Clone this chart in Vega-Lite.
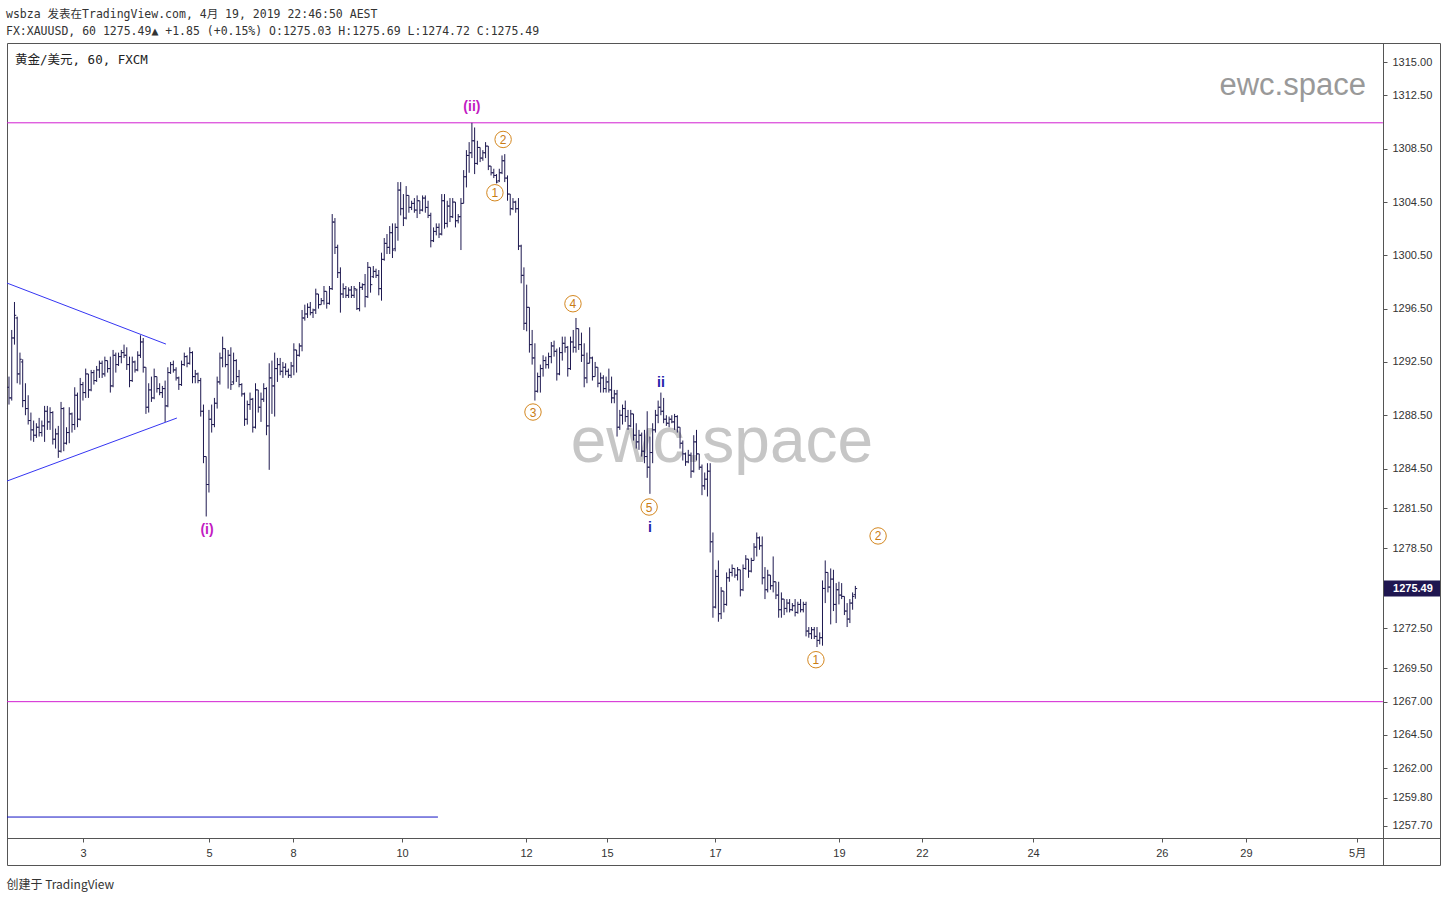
{
"$schema": "https://vega.github.io/schema/vega-lite/v6.json",
"width": 1433,
"height": 822,
"autosize": {"type": "none"},
"padding": {"left": 7, "top": 43, "right": 6, "bottom": 37},
"background": "#ffffff",
"title": {
"text": "wsbza 发表在TradingView.com, 4月 19, 2019 22:46:50 AEST",
"subtitle": "FX:XAUUSD, 60 1275.49▲ +1.85 (+0.15%) O:1275.03 H:1275.69 L:1274.72 C:1275.49",
"anchor": "start", "frame": "group", "orient": "top", "baseline": "top",
"font": "DejaVu Sans Mono, Noto Sans CJK SC", "fontSize": 11.5, "fontWeight": "normal", "color": "#333333",
"subtitleFont": "DejaVu Sans Mono, Noto Sans CJK SC", "subtitleFontSize": 11.5, "subtitleColor": "#333333",
"subtitlePadding": 5, "offset": 6, "dx": -1
},
"datasets": {
"bars": [
{"i":0,"o":1290.6,"h":1291.4,"l":1289.3,"c":1289.8},
{"i":1,"o":1289.8,"h":1294.9,"l":1289.6,"c":1294.3},
{"i":2,"o":1294.3,"h":1297.0,"l":1293.8,"c":1296.0},
{"i":3,"o":1295.8,"h":1295.9,"l":1290.9,"c":1291.6},
{"i":4,"o":1291.6,"h":1293.2,"l":1290.8,"c":1292.7},
{"i":5,"o":1292.5,"h":1292.7,"l":1289.1,"c":1289.6},
{"i":6,"o":1289.6,"h":1290.9,"l":1288.5,"c":1289.0},
{"i":7,"o":1289.0,"h":1290.0,"l":1287.8,"c":1288.1},
{"i":8,"o":1288.1,"h":1288.7,"l":1286.6,"c":1287.4},
{"i":9,"o":1287.4,"h":1288.1,"l":1286.5,"c":1287.0},
{"i":10,"o":1287.0,"h":1287.9,"l":1286.8,"c":1287.6},
{"i":11,"o":1287.6,"h":1288.3,"l":1286.9,"c":1287.2},
{"i":12,"o":1287.2,"h":1288.1,"l":1286.9,"c":1287.7},
{"i":13,"o":1287.7,"h":1289.2,"l":1286.5,"c":1288.8},
{"i":14,"o":1288.8,"h":1289.2,"l":1287.4,"c":1288.0},
{"i":15,"o":1288.0,"h":1289.1,"l":1287.4,"c":1288.7},
{"i":16,"o":1288.7,"h":1288.8,"l":1286.3,"c":1286.7},
{"i":17,"o":1286.7,"h":1287.5,"l":1286.0,"c":1287.1},
{"i":18,"o":1287.1,"h":1287.7,"l":1285.3,"c":1285.8},
{"i":19,"o":1285.8,"h":1289.5,"l":1285.7,"c":1289.0},
{"i":20,"o":1289.0,"h":1289.1,"l":1285.8,"c":1286.4},
{"i":21,"o":1286.4,"h":1287.6,"l":1286.3,"c":1287.2},
{"i":22,"o":1287.2,"h":1289.1,"l":1286.4,"c":1288.6},
{"i":23,"o":1288.6,"h":1288.7,"l":1287.2,"c":1287.8},
{"i":24,"o":1287.8,"h":1290.6,"l":1287.4,"c":1290.0},
{"i":25,"o":1290.0,"h":1290.2,"l":1287.6,"c":1288.2},
{"i":26,"o":1288.2,"h":1291.3,"l":1288.1,"c":1290.8},
{"i":27,"o":1290.8,"h":1291.0,"l":1289.6,"c":1290.2},
{"i":28,"o":1290.2,"h":1292.0,"l":1289.8,"c":1291.6},
{"i":29,"o":1291.6,"h":1291.6,"l":1289.8,"c":1290.4},
{"i":30,"o":1290.4,"h":1291.9,"l":1290.3,"c":1291.7},
{"i":31,"o":1291.7,"h":1291.9,"l":1290.8,"c":1291.1},
{"i":32,"o":1291.1,"h":1292.2,"l":1291.0,"c":1291.9},
{"i":33,"o":1291.9,"h":1292.6,"l":1291.3,"c":1292.4},
{"i":34,"o":1292.4,"h":1292.6,"l":1291.3,"c":1291.6},
{"i":35,"o":1291.6,"h":1292.9,"l":1291.4,"c":1292.6},
{"i":36,"o":1292.6,"h":1292.6,"l":1291.7,"c":1292.0},
{"i":37,"o":1292.0,"h":1292.9,"l":1290.2,"c":1290.7},
{"i":38,"o":1290.7,"h":1293.4,"l":1290.6,"c":1293.0},
{"i":39,"o":1293.0,"h":1293.2,"l":1291.7,"c":1292.3},
{"i":40,"o":1292.3,"h":1293.2,"l":1292.2,"c":1292.9},
{"i":41,"o":1292.9,"h":1293.4,"l":1292.4,"c":1293.2},
{"i":42,"o":1293.2,"h":1293.8,"l":1292.8,"c":1293.0},
{"i":43,"o":1293.0,"h":1293.6,"l":1291.9,"c":1292.3},
{"i":44,"o":1292.3,"h":1292.9,"l":1290.6,"c":1291.1},
{"i":45,"o":1291.1,"h":1292.9,"l":1291.0,"c":1292.5},
{"i":46,"o":1292.5,"h":1292.6,"l":1291.7,"c":1291.9},
{"i":47,"o":1291.9,"h":1293.3,"l":1291.8,"c":1293.0},
{"i":48,"o":1293.0,"h":1294.5,"l":1292.8,"c":1294.0},
{"i":49,"o":1294.0,"h":1294.3,"l":1291.7,"c":1292.1},
{"i":50,"o":1292.1,"h":1292.1,"l":1288.6,"c":1289.1},
{"i":51,"o":1289.1,"h":1290.9,"l":1288.7,"c":1290.4},
{"i":52,"o":1290.4,"h":1291.4,"l":1289.5,"c":1289.8},
{"i":53,"o":1289.8,"h":1292.0,"l":1289.7,"c":1291.4},
{"i":54,"o":1291.4,"h":1291.4,"l":1290.2,"c":1290.5},
{"i":55,"o":1290.5,"h":1290.9,"l":1290.0,"c":1290.2},
{"i":56,"o":1290.2,"h":1290.7,"l":1289.8,"c":1290.5},
{"i":57,"o":1290.5,"h":1291.1,"l":1288.0,"c":1289.2},
{"i":58,"o":1289.2,"h":1292.1,"l":1289.1,"c":1291.7},
{"i":59,"o":1291.7,"h":1292.5,"l":1291.6,"c":1292.3},
{"i":60,"o":1292.3,"h":1292.6,"l":1291.7,"c":1291.9},
{"i":61,"o":1291.9,"h":1292.1,"l":1291.1,"c":1291.3},
{"i":62,"o":1291.3,"h":1291.4,"l":1290.4,"c":1290.8},
{"i":63,"o":1290.8,"h":1292.6,"l":1290.7,"c":1292.3},
{"i":64,"o":1292.3,"h":1293.2,"l":1292.2,"c":1292.9},
{"i":65,"o":1292.9,"h":1293.0,"l":1292.1,"c":1292.4},
{"i":66,"o":1292.4,"h":1293.6,"l":1292.3,"c":1293.2},
{"i":67,"o":1293.2,"h":1293.3,"l":1290.9,"c":1291.4},
{"i":68,"o":1291.4,"h":1291.9,"l":1290.9,"c":1291.6},
{"i":69,"o":1291.6,"h":1291.7,"l":1290.9,"c":1291.1},
{"i":70,"o":1291.1,"h":1291.3,"l":1288.4,"c":1288.8},
{"i":71,"o":1288.8,"h":1289.3,"l":1284.9,"c":1285.4},
{"i":72,"o":1285.4,"h":1285.4,"l":1280.9,"c":1283.3},
{"i":73,"o":1283.3,"h":1288.9,"l":1282.7,"c":1288.2},
{"i":74,"o":1288.2,"h":1289.3,"l":1287.2,"c":1287.8},
{"i":75,"o":1287.8,"h":1289.8,"l":1287.6,"c":1289.4},
{"i":76,"o":1289.4,"h":1291.4,"l":1289.0,"c":1291.0},
{"i":77,"o":1291.0,"h":1293.2,"l":1290.8,"c":1292.8},
{"i":78,"o":1292.8,"h":1294.4,"l":1292.1,"c":1293.5},
{"i":79,"o":1293.5,"h":1293.5,"l":1292.1,"c":1292.3},
{"i":80,"o":1292.3,"h":1293.4,"l":1290.5,"c":1293.0},
{"i":81,"o":1293.0,"h":1293.6,"l":1290.4,"c":1290.8},
{"i":82,"o":1291.0,"h":1293.2,"l":1290.8,"c":1292.6},
{"i":83,"o":1292.6,"h":1292.7,"l":1291.0,"c":1291.4},
{"i":84,"o":1291.4,"h":1291.9,"l":1290.6,"c":1290.8},
{"i":85,"o":1290.8,"h":1290.9,"l":1289.9,"c":1290.1},
{"i":86,"o":1290.1,"h":1290.2,"l":1287.7,"c":1288.2},
{"i":87,"o":1288.2,"h":1289.6,"l":1287.8,"c":1289.3},
{"i":88,"o":1289.3,"h":1290.2,"l":1288.9,"c":1289.7},
{"i":89,"o":1289.7,"h":1289.8,"l":1287.2,"c":1287.6},
{"i":90,"o":1287.6,"h":1290.9,"l":1287.5,"c":1290.4},
{"i":91,"o":1290.4,"h":1290.4,"l":1288.7,"c":1289.1},
{"i":92,"o":1289.1,"h":1290.2,"l":1288.0,"c":1289.7},
{"i":93,"o":1289.7,"h":1290.9,"l":1289.5,"c":1290.5},
{"i":94,"o":1290.5,"h":1290.6,"l":1287.0,"c":1287.7},
{"i":95,"o":1287.7,"h":1292.4,"l":1284.4,"c":1291.3},
{"i":96,"o":1291.3,"h":1292.6,"l":1288.6,"c":1290.7},
{"i":97,"o":1290.7,"h":1293.2,"l":1288.4,"c":1292.0},
{"i":98,"o":1292.0,"h":1292.8,"l":1291.0,"c":1292.3},
{"i":99,"o":1292.3,"h":1292.8,"l":1291.5,"c":1291.8},
{"i":100,"o":1291.8,"h":1292.5,"l":1291.3,"c":1292.1},
{"i":101,"o":1292.1,"h":1292.4,"l":1291.5,"c":1291.8},
{"i":102,"o":1291.8,"h":1292.0,"l":1291.3,"c":1291.5},
{"i":103,"o":1291.5,"h":1292.5,"l":1291.3,"c":1292.2},
{"i":104,"o":1292.2,"h":1293.9,"l":1291.5,"c":1293.4},
{"i":105,"o":1293.4,"h":1293.4,"l":1291.7,"c":1293.0},
{"i":106,"o":1293.0,"h":1293.9,"l":1292.9,"c":1293.7},
{"i":107,"o":1293.7,"h":1296.4,"l":1293.3,"c":1295.8},
{"i":108,"o":1295.8,"h":1296.8,"l":1295.6,"c":1296.1},
{"i":109,"o":1296.1,"h":1296.9,"l":1295.8,"c":1296.6},
{"i":110,"o":1296.6,"h":1297.0,"l":1296.0,"c":1296.2},
{"i":111,"o":1296.2,"h":1296.5,"l":1295.8,"c":1296.4},
{"i":112,"o":1296.4,"h":1298.0,"l":1296.1,"c":1297.6},
{"i":113,"o":1297.6,"h":1297.6,"l":1296.5,"c":1296.8},
{"i":114,"o":1296.8,"h":1297.3,"l":1296.8,"c":1297.1},
{"i":115,"o":1297.1,"h":1298.2,"l":1296.8,"c":1297.8},
{"i":116,"o":1297.8,"h":1297.8,"l":1296.5,"c":1296.9},
{"i":117,"o":1296.9,"h":1298.2,"l":1296.8,"c":1298.0},
{"i":118,"o":1298.0,"h":1303.6,"l":1297.9,"c":1303.0},
{"i":119,"o":1303.0,"h":1303.3,"l":1300.6,"c":1301.1},
{"i":120,"o":1301.1,"h":1301.3,"l":1298.8,"c":1299.2},
{"i":121,"o":1299.2,"h":1299.6,"l":1296.2,"c":1297.6},
{"i":122,"o":1297.6,"h":1298.4,"l":1297.3,"c":1298.0},
{"i":123,"o":1298.0,"h":1298.2,"l":1297.3,"c":1297.5},
{"i":124,"o":1297.5,"h":1298.1,"l":1297.3,"c":1297.9},
{"i":125,"o":1297.9,"h":1298.2,"l":1297.3,"c":1297.5},
{"i":126,"o":1297.5,"h":1298.2,"l":1297.3,"c":1298.0},
{"i":127,"o":1297.9,"h":1298.0,"l":1296.4,"c":1296.5},
{"i":128,"o":1296.5,"h":1298.5,"l":1296.3,"c":1298.1},
{"i":129,"o":1298.1,"h":1298.4,"l":1297.9,"c":1298.3},
{"i":130,"o":1298.3,"h":1299.1,"l":1296.6,"c":1297.4},
{"i":131,"o":1297.4,"h":1300.0,"l":1297.3,"c":1299.6},
{"i":132,"o":1299.6,"h":1299.6,"l":1297.7,"c":1298.3},
{"i":133,"o":1298.9,"h":1299.7,"l":1298.8,"c":1299.3},
{"i":134,"o":1299.3,"h":1299.5,"l":1298.8,"c":1299.0},
{"i":135,"o":1299.0,"h":1299.4,"l":1297.5,"c":1298.0},
{"i":136,"o":1298.0,"h":1300.7,"l":1297.1,"c":1300.2},
{"i":137,"o":1300.2,"h":1301.8,"l":1300.1,"c":1301.4},
{"i":138,"o":1301.4,"h":1302.1,"l":1300.6,"c":1301.1},
{"i":139,"o":1301.1,"h":1302.7,"l":1300.6,"c":1302.2},
{"i":140,"o":1302.2,"h":1302.9,"l":1300.3,"c":1300.9},
{"i":141,"o":1301.0,"h":1302.9,"l":1300.8,"c":1302.6},
{"i":142,"o":1302.6,"h":1306.0,"l":1301.6,"c":1305.4},
{"i":143,"o":1305.4,"h":1306.0,"l":1303.5,"c":1304.0},
{"i":144,"o":1304.0,"h":1305.1,"l":1302.7,"c":1303.3},
{"i":145,"o":1303.3,"h":1305.7,"l":1303.2,"c":1305.0},
{"i":146,"o":1305.0,"h":1305.0,"l":1303.7,"c":1304.1},
{"i":147,"o":1304.1,"h":1304.6,"l":1303.9,"c":1304.4},
{"i":148,"o":1304.4,"h":1304.8,"l":1303.7,"c":1303.9},
{"i":149,"o":1303.9,"h":1305.0,"l":1303.3,"c":1304.6},
{"i":150,"o":1304.6,"h":1304.6,"l":1303.6,"c":1303.9},
{"i":151,"o":1303.9,"h":1305.0,"l":1303.8,"c":1304.8},
{"i":152,"o":1304.8,"h":1305.0,"l":1303.7,"c":1304.1},
{"i":153,"o":1304.1,"h":1304.6,"l":1303.3,"c":1303.5},
{"i":154,"o":1303.5,"h":1303.7,"l":1301.1,"c":1301.6},
{"i":155,"o":1301.6,"h":1302.6,"l":1301.5,"c":1302.3},
{"i":156,"o":1302.3,"h":1302.9,"l":1302.0,"c":1302.6},
{"i":157,"o":1302.6,"h":1302.9,"l":1301.8,"c":1302.1},
{"i":158,"o":1302.1,"h":1305.1,"l":1302.0,"c":1304.6},
{"i":159,"o":1304.6,"h":1305.1,"l":1302.5,"c":1302.9},
{"i":160,"o":1302.9,"h":1304.6,"l":1302.6,"c":1304.2},
{"i":161,"o":1304.2,"h":1304.8,"l":1303.0,"c":1303.4},
{"i":162,"o":1303.4,"h":1304.8,"l":1303.3,"c":1304.5},
{"i":163,"o":1304.5,"h":1304.5,"l":1302.6,"c":1303.1},
{"i":164,"o":1303.1,"h":1303.6,"l":1302.9,"c":1303.4},
{"i":165,"o":1303.4,"h":1304.8,"l":1300.9,"c":1304.4},
{"i":166,"o":1304.4,"h":1306.9,"l":1304.4,"c":1306.4},
{"i":167,"o":1306.4,"h":1308.4,"l":1305.6,"c":1308.0},
{"i":168,"o":1308.0,"h":1309.0,"l":1306.7,"c":1308.2},
{"i":169,"o":1308.2,"h":1310.45,"l":1307.8,"c":1309.1},
{"i":170,"o":1309.1,"h":1310.1,"l":1306.6,"c":1307.4},
{"i":171,"o":1307.4,"h":1309.1,"l":1307.3,"c":1308.6},
{"i":172,"o":1308.6,"h":1308.6,"l":1307.5,"c":1307.8},
{"i":173,"o":1307.8,"h":1308.4,"l":1307.6,"c":1308.2},
{"i":174,"o":1308.2,"h":1309.0,"l":1307.8,"c":1308.7},
{"i":175,"o":1308.7,"h":1308.7,"l":1306.9,"c":1307.2},
{"i":176,"o":1307.2,"h":1307.2,"l":1306.5,"c":1306.7},
{"i":177,"o":1306.7,"h":1307.0,"l":1306.3,"c":1306.5},
{"i":178,"o":1306.5,"h":1306.6,"l":1305.9,"c":1306.0},
{"i":179,"o":1306.1,"h":1307.0,"l":1306.0,"c":1306.7},
{"i":180,"o":1306.7,"h":1308.0,"l":1306.6,"c":1307.6},
{"i":181,"o":1307.6,"h":1308.1,"l":1306.0,"c":1306.3},
{"i":182,"o":1306.3,"h":1306.5,"l":1304.6,"c":1305.1},
{"i":183,"o":1305.1,"h":1305.1,"l":1303.5,"c":1304.0},
{"i":184,"o":1304.0,"h":1304.8,"l":1303.9,"c":1304.5},
{"i":185,"o":1304.5,"h":1304.6,"l":1303.7,"c":1304.0},
{"i":186,"o":1304.0,"h":1304.8,"l":1300.9,"c":1301.2},
{"i":187,"o":1301.2,"h":1301.3,"l":1298.4,"c":1299.0},
{"i":188,"o":1299.0,"h":1299.6,"l":1294.9,"c":1295.4},
{"i":189,"o":1295.4,"h":1298.3,"l":1294.8,"c":1296.6},
{"i":190,"o":1296.6,"h":1296.6,"l":1293.2,"c":1293.8},
{"i":191,"o":1293.8,"h":1294.9,"l":1292.3,"c":1292.8},
{"i":192,"o":1292.8,"h":1293.9,"l":1289.6,"c":1290.3},
{"i":193,"o":1290.3,"h":1291.7,"l":1290.2,"c":1291.4},
{"i":194,"o":1291.4,"h":1292.3,"l":1290.2,"c":1292.0},
{"i":195,"o":1292.0,"h":1293.0,"l":1291.4,"c":1292.6},
{"i":196,"o":1292.6,"h":1292.9,"l":1292.0,"c":1292.3},
{"i":197,"o":1292.3,"h":1293.2,"l":1292.0,"c":1292.9},
{"i":198,"o":1292.9,"h":1294.0,"l":1292.4,"c":1293.7},
{"i":199,"o":1293.7,"h":1294.1,"l":1292.9,"c":1293.3},
{"i":200,"o":1293.3,"h":1293.5,"l":1291.1,"c":1291.6},
{"i":201,"o":1291.6,"h":1293.6,"l":1291.5,"c":1293.2},
{"i":202,"o":1293.2,"h":1294.4,"l":1292.6,"c":1293.9},
{"i":203,"o":1293.9,"h":1294.4,"l":1293.2,"c":1293.6},
{"i":204,"o":1293.6,"h":1293.7,"l":1291.4,"c":1292.0},
{"i":205,"o":1292.0,"h":1294.4,"l":1291.9,"c":1294.0},
{"i":206,"o":1294.0,"h":1294.9,"l":1293.2,"c":1293.6},
{"i":207,"o":1293.6,"h":1295.8,"l":1293.2,"c":1295.0},
{"i":208,"o":1295.0,"h":1295.0,"l":1293.4,"c":1293.8},
{"i":209,"o":1293.8,"h":1294.7,"l":1292.5,"c":1293.0},
{"i":210,"o":1293.0,"h":1293.9,"l":1290.6,"c":1291.3},
{"i":211,"o":1291.3,"h":1293.2,"l":1290.9,"c":1292.4},
{"i":212,"o":1292.4,"h":1295.1,"l":1292.4,"c":1292.8},
{"i":213,"o":1292.8,"h":1292.9,"l":1291.1,"c":1291.4},
{"i":214,"o":1291.4,"h":1292.5,"l":1291.4,"c":1292.1},
{"i":215,"o":1292.1,"h":1292.1,"l":1290.6,"c":1290.9},
{"i":216,"o":1290.9,"h":1291.7,"l":1290.2,"c":1291.3},
{"i":217,"o":1291.3,"h":1291.5,"l":1290.2,"c":1290.5},
{"i":218,"o":1290.5,"h":1291.4,"l":1290.2,"c":1291.0},
{"i":219,"o":1291.0,"h":1292.0,"l":1290.2,"c":1290.4},
{"i":220,"o":1290.4,"h":1291.4,"l":1289.4,"c":1289.8},
{"i":221,"o":1289.8,"h":1290.4,"l":1289.4,"c":1290.1},
{"i":222,"o":1290.1,"h":1290.4,"l":1286.9,"c":1287.6},
{"i":223,"o":1287.6,"h":1288.9,"l":1287.4,"c":1288.5},
{"i":224,"o":1288.5,"h":1289.3,"l":1287.8,"c":1289.0},
{"i":225,"o":1289.0,"h":1289.6,"l":1288.0,"c":1288.4},
{"i":226,"o":1288.4,"h":1288.9,"l":1287.4,"c":1287.7},
{"i":227,"o":1287.7,"h":1288.9,"l":1287.6,"c":1288.6},
{"i":228,"o":1288.6,"h":1288.6,"l":1286.6,"c":1287.0},
{"i":229,"o":1287.0,"h":1287.9,"l":1286.0,"c":1286.5},
{"i":230,"o":1286.5,"h":1287.4,"l":1285.9,"c":1287.0},
{"i":231,"o":1287.0,"h":1287.2,"l":1285.4,"c":1285.8},
{"i":232,"o":1285.8,"h":1287.4,"l":1284.9,"c":1285.4},
{"i":233,"o":1285.4,"h":1288.8,"l":1283.8,"c":1284.6},
{"i":234,"o":1284.6,"h":1286.9,"l":1282.6,"c":1285.7},
{"i":235,"o":1285.7,"h":1287.9,"l":1284.9,"c":1287.4},
{"i":236,"o":1287.4,"h":1288.9,"l":1287.2,"c":1288.5},
{"i":237,"o":1288.5,"h":1289.6,"l":1287.9,"c":1289.1},
{"i":238,"o":1289.1,"h":1290.2,"l":1288.5,"c":1288.8},
{"i":239,"o":1288.8,"h":1289.8,"l":1287.9,"c":1288.2},
{"i":240,"o":1288.2,"h":1288.5,"l":1287.7,"c":1287.9},
{"i":241,"o":1287.9,"h":1288.4,"l":1287.6,"c":1288.2},
{"i":242,"o":1288.2,"h":1288.5,"l":1287.9,"c":1288.0},
{"i":243,"o":1288.0,"h":1288.6,"l":1287.4,"c":1288.4},
{"i":244,"o":1288.4,"h":1288.5,"l":1287.2,"c":1287.6},
{"i":245,"o":1287.6,"h":1287.6,"l":1286.0,"c":1286.4},
{"i":246,"o":1286.4,"h":1286.6,"l":1285.1,"c":1285.6},
{"i":247,"o":1285.6,"h":1285.7,"l":1284.7,"c":1285.0},
{"i":248,"o":1285.0,"h":1285.9,"l":1284.9,"c":1285.5},
{"i":249,"o":1285.5,"h":1285.7,"l":1283.8,"c":1284.3},
{"i":250,"o":1284.3,"h":1287.0,"l":1284.2,"c":1286.5},
{"i":251,"o":1286.5,"h":1287.4,"l":1285.1,"c":1285.6},
{"i":252,"o":1285.6,"h":1285.6,"l":1284.4,"c":1284.6},
{"i":253,"o":1284.6,"h":1284.8,"l":1282.5,"c":1283.2},
{"i":254,"o":1283.2,"h":1284.2,"l":1282.9,"c":1283.7},
{"i":255,"o":1283.7,"h":1284.9,"l":1282.4,"c":1284.3},
{"i":256,"o":1284.3,"h":1284.9,"l":1278.2,"c":1279.0},
{"i":257,"o":1279.0,"h":1279.7,"l":1273.3,"c":1274.1},
{"i":258,"o":1274.1,"h":1276.9,"l":1274.0,"c":1276.4},
{"i":259,"o":1276.4,"h":1277.6,"l":1273.0,"c":1273.6},
{"i":260,"o":1273.6,"h":1275.6,"l":1273.2,"c":1275.3},
{"i":261,"o":1275.3,"h":1275.3,"l":1273.7,"c":1274.3},
{"i":262,"o":1274.3,"h":1276.7,"l":1274.2,"c":1276.3},
{"i":263,"o":1276.3,"h":1277.0,"l":1276.0,"c":1276.7},
{"i":264,"o":1276.7,"h":1277.3,"l":1276.4,"c":1277.0},
{"i":265,"o":1277.0,"h":1277.0,"l":1276.3,"c":1276.5},
{"i":266,"o":1276.5,"h":1277.1,"l":1276.1,"c":1276.9},
{"i":267,"o":1276.9,"h":1276.9,"l":1274.9,"c":1275.4},
{"i":268,"o":1275.4,"h":1277.3,"l":1275.3,"c":1277.0},
{"i":269,"o":1277.0,"h":1278.0,"l":1276.9,"c":1277.7},
{"i":270,"o":1277.7,"h":1277.7,"l":1276.3,"c":1276.8},
{"i":271,"o":1276.8,"h":1277.8,"l":1276.7,"c":1277.6},
{"i":272,"o":1277.6,"h":1278.9,"l":1277.6,"c":1278.6},
{"i":273,"o":1278.6,"h":1279.7,"l":1277.9,"c":1279.3},
{"i":274,"o":1279.3,"h":1279.4,"l":1278.4,"c":1278.7},
{"i":275,"o":1278.7,"h":1279.4,"l":1275.8,"c":1276.3},
{"i":276,"o":1276.3,"h":1277.1,"l":1274.7,"c":1275.4},
{"i":277,"o":1275.4,"h":1276.9,"l":1275.2,"c":1276.5},
{"i":278,"o":1276.5,"h":1276.5,"l":1275.4,"c":1275.7},
{"i":279,"o":1275.7,"h":1277.9,"l":1275.2,"c":1276.0},
{"i":280,"o":1276.0,"h":1276.0,"l":1274.7,"c":1275.0},
{"i":281,"o":1275.0,"h":1276.0,"l":1273.3,"c":1273.9},
{"i":282,"o":1273.9,"h":1275.2,"l":1273.3,"c":1274.7},
{"i":283,"o":1274.7,"h":1274.7,"l":1273.5,"c":1274.0},
{"i":284,"o":1274.0,"h":1274.7,"l":1273.7,"c":1274.4},
{"i":285,"o":1274.4,"h":1274.7,"l":1273.7,"c":1273.9},
{"i":286,"o":1273.9,"h":1274.4,"l":1273.8,"c":1274.2},
{"i":287,"o":1274.2,"h":1274.7,"l":1273.4,"c":1273.7},
{"i":288,"o":1273.7,"h":1274.5,"l":1273.6,"c":1274.3},
{"i":289,"o":1274.3,"h":1274.7,"l":1273.7,"c":1273.9},
{"i":290,"o":1273.9,"h":1274.5,"l":1273.7,"c":1274.3},
{"i":291,"o":1274.3,"h":1274.5,"l":1271.9,"c":1272.3},
{"i":292,"o":1272.3,"h":1272.6,"l":1271.8,"c":1272.1},
{"i":293,"o":1272.1,"h":1272.6,"l":1271.7,"c":1272.4},
{"i":294,"o":1272.4,"h":1272.6,"l":1271.7,"c":1271.9},
{"i":295,"o":1271.9,"h":1272.6,"l":1271.1,"c":1271.6},
{"i":296,"o":1271.6,"h":1272.2,"l":1271.3,"c":1271.8},
{"i":297,"o":1271.8,"h":1276.1,"l":1271.2,"c":1275.5},
{"i":298,"o":1275.5,"h":1277.6,"l":1274.4,"c":1276.7},
{"i":299,"o":1276.7,"h":1276.7,"l":1275.2,"c":1275.6},
{"i":300,"o":1275.6,"h":1277.0,"l":1272.8,"c":1276.2},
{"i":301,"o":1276.2,"h":1276.9,"l":1273.8,"c":1274.3},
{"i":302,"o":1274.3,"h":1275.9,"l":1272.9,"c":1275.4},
{"i":303,"o":1275.4,"h":1276.0,"l":1274.3,"c":1275.0},
{"i":304,"o":1275.0,"h":1275.9,"l":1274.7,"c":1274.9},
{"i":305,"o":1274.9,"h":1274.9,"l":1273.5,"c":1273.8},
{"i":306,"o":1273.8,"h":1274.4,"l":1272.6,"c":1273.2},
{"i":307,"o":1273.2,"h":1274.7,"l":1272.9,"c":1274.4},
{"i":308,"o":1274.4,"h":1275.2,"l":1273.9,"c":1274.9},
{"i":309,"o":1275.03,"h":1275.69,"l":1274.72,"c":1275.49}
],
"hlines": [
{"name": "(ii) high", "price": 1310.45, "from": -0.73, "to": 501.6},
{"name": "support", "price": 1267.0, "from": -0.73, "to": 501.6}
],
"trend": [
{"seg": "upper", "kind": "trend", "i": -0.73, "p": 1298.42},
{"seg": "upper", "kind": "trend", "i": 57.3, "p": 1293.84},
{"seg": "lower", "kind": "trend", "i": -0.73, "p": 1283.56},
{"seg": "lower", "kind": "trend", "i": 61.3, "p": 1288.29},
{"seg": "base", "kind": "base", "i": -0.73, "p": 1258.34},
{"seg": "base", "kind": "base", "i": 156.6, "p": 1258.34}
],
"labels": [
{"t": "(ii)", "kind": "major", "i": 169.0, "p": 1311.66},
{"t": "(i)", "kind": "major", "i": 72.3, "p": 1279.85},
{"t": "i", "kind": "minor", "i": 234.0, "p": 1280.0},
{"t": "ii", "kind": "minor", "i": 238.0, "p": 1290.9},
{"t": "2", "kind": "circle", "i": 180.4, "p": 1309.2},
{"t": "1", "kind": "circle", "i": 177.4, "p": 1305.2},
{"t": "3", "kind": "circle", "i": 191.3, "p": 1288.74},
{"t": "4", "kind": "circle", "i": 205.9, "p": 1296.87},
{"t": "5", "kind": "circle", "i": 233.7, "p": 1281.61},
{"t": "1", "kind": "circle", "i": 294.6, "p": 1270.15},
{"t": "2", "kind": "circle", "i": 317.3, "p": 1279.44}
],
"notes": [
{"t": "ewc.space", "kind": "big", "i": 260.3, "p": 1284.99},
{"t": "ewc.space", "kind": "small", "i": 495.4, "p": 1312.5},
{"t": "黄金/美元, 60, FXCM", "kind": "symbol", "i": 2.2, "p": 1315.2}
],
"last": [{"price": 1275.49, "label": "1275.49"}]
},
"layer": [
{
"data": {"name": "notes"},
"transform": [{"filter": "datum.kind == 'big'"}],
"mark": {"type": "text", "font": "Liberation Sans", "fontSize": 64, "align": "center", "baseline": "alphabetic", "color": "#c6c6c6"},
"encoding": {
"x": {"field": "i", "type": "quantitative", "scale": {"domain": [-0.73, 522.45], "nice": false, "zero": false, "padding": 0},
"axis": {"orient": "bottom", "offset": -27, "values": [27.0, 73.0, 103.7, 143.5, 188.8, 218.3, 257.8, 303.0, 333.3, 373.9, 420.9, 451.6, 492.2],
"labelExpr": "datum.value < 50 ? '3' : datum.value < 90 ? '5' : datum.value < 120 ? '8' : datum.value < 160 ? '10' : datum.value < 200 ? '12' : datum.value < 240 ? '15' : datum.value < 280 ? '17' : datum.value < 320 ? '19' : datum.value < 350 ? '22' : datum.value < 400 ? '24' : datum.value < 440 ? '26' : datum.value < 470 ? '29' : '5月'",
"title": "创建于  TradingView", "titleFont": "Noto Sans CJK SC", "titleFontSize": 12, "titleFontWeight": "normal", "titleColor": "#333333",
"titleAnchor": "start", "titleAlign": "left", "titleBaseline": "middle", "titleX": -1, "titleY": 46,
"grid": false, "domain": true, "ticks": true, "labels": true, "domainColor": "#555555", "tickColor": "#555555", "tickSize": 4, "labelPadding": 5,
"labelFont": "Liberation Sans, Noto Sans CJK SC", "labelFontSize": 11, "labelColor": "#333333", "labelOverlap": false, "labelFlush": false, "labelBound": false}},
"y": {"field": "p", "type": "quantitative", "scale": {"domain": [1254.74, 1316.44], "nice": false, "zero": false, "padding": 0},
"axis": {"orient": "right", "offset": -57, "values": [1315, 1312.5, 1308.5, 1304.5, 1300.5, 1296.5, 1292.5, 1288.5, 1284.5, 1281.5, 1278.5, 1272.5, 1269.5, 1267, 1264.5, 1262, 1259.8, 1257.7],
"format": ".2f", "title": null, "grid": false, "domain": true, "ticks": true, "labels": true, "domainColor": "#555555", "tickColor": "#555555", "tickSize": 4, "labelPadding": 5,
"labelFont": "Liberation Sans", "labelFontSize": 11, "labelColor": "#333333", "labelAlign": "left", "labelBaseline": "middle", "labelOverlap": false, "labelFlush": false, "labelBound": false}},
"text": {"field": "t"}
}
},
{
"data": {"name": "notes"},
"transform": [{"filter": "datum.kind == 'small'"}],
"mark": {"type": "text", "font": "Liberation Sans", "fontSize": 31, "align": "right", "baseline": "alphabetic", "color": "#999999"},
"encoding": {
"x": {"field": "i", "type": "quantitative", "scale": {"domain": [-0.73, 522.45], "nice": false, "zero": false, "padding": 0}},
"y": {"field": "p", "type": "quantitative", "scale": {"domain": [1254.74, 1316.44], "nice": false, "zero": false, "padding": 0}},
"text": {"field": "t"}
}
},
{
"data": {"name": "notes"},
"transform": [{"filter": "datum.kind == 'symbol'"}],
"mark": {"type": "text", "font": "DejaVu Sans Mono, Noto Sans CJK SC", "fontSize": 12.5, "align": "left", "baseline": "middle", "color": "#222222"},
"encoding": {
"x": {"field": "i", "type": "quantitative", "scale": {"domain": [-0.73, 522.45], "nice": false, "zero": false, "padding": 0}},
"y": {"field": "p", "type": "quantitative", "scale": {"domain": [1254.74, 1316.44], "nice": false, "zero": false, "padding": 0}},
"text": {"field": "t"}
}
},
{
"data": {"name": "trend"},
"mark": {"type": "line", "strokeWidth": 1, "clip": true},
"encoding": {
"x": {"field": "i", "type": "quantitative", "scale": {"domain": [-0.73, 522.45], "nice": false, "zero": false, "padding": 0}},
"y": {"field": "p", "type": "quantitative", "scale": {"domain": [1254.74, 1316.44], "nice": false, "zero": false, "padding": 0}},
"detail": {"field": "seg"},
"color": {"field": "kind", "type": "nominal", "scale": {"domain": ["trend", "base"], "range": ["#3535f2", "#1212c4"]}, "legend": null}
}
},
{
"data": {"name": "hlines"},
"mark": {"type": "rule", "strokeWidth": 1, "color": "#d21fd2"},
"encoding": {
"x": {"field": "from", "type": "quantitative", "scale": {"domain": [-0.73, 522.45], "nice": false, "zero": false, "padding": 0}},
"x2": {"field": "to"},
"y": {"field": "price", "type": "quantitative", "scale": {"domain": [1254.74, 1316.44], "nice": false, "zero": false, "padding": 0}}
}
},
{
"data": {"name": "bars"},
"mark": {"type": "rule", "strokeWidth": 1, "color": "#1e1950"},
"encoding": {
"x": {"field": "i", "type": "quantitative", "scale": {"domain": [-0.73, 522.45], "nice": false, "zero": false, "padding": 0}},
"y": {"field": "l", "type": "quantitative", "scale": {"domain": [1254.74, 1316.44], "nice": false, "zero": false, "padding": 0}},
"y2": {"field": "h"}
}
},
{
"data": {"name": "bars"},
"mark": {"type": "rule", "strokeWidth": 1, "color": "#1e1950", "xOffset": -1.8},
"encoding": {
"x": {"field": "i", "type": "quantitative", "scale": {"domain": [-0.73, 522.45], "nice": false, "zero": false, "padding": 0}},
"x2": {"field": "i"},
"y": {"field": "o", "type": "quantitative", "scale": {"domain": [1254.74, 1316.44], "nice": false, "zero": false, "padding": 0}}
}
},
{
"data": {"name": "bars"},
"mark": {"type": "rule", "strokeWidth": 1, "color": "#1e1950", "x2Offset": 1.8},
"encoding": {
"x": {"field": "i", "type": "quantitative", "scale": {"domain": [-0.73, 522.45], "nice": false, "zero": false, "padding": 0}},
"x2": {"field": "i"},
"y": {"field": "c", "type": "quantitative", "scale": {"domain": [1254.74, 1316.44], "nice": false, "zero": false, "padding": 0}}
}
},
{
"data": {"name": "labels"},
"transform": [{"filter": "datum.kind == 'major'"}],
"mark": {"type": "text", "font": "Liberation Sans", "fontSize": 14, "fontWeight": "bold", "align": "center", "baseline": "middle", "color": "#c21bc2"},
"encoding": {
"x": {"field": "i", "type": "quantitative", "scale": {"domain": [-0.73, 522.45], "nice": false, "zero": false, "padding": 0}},
"y": {"field": "p", "type": "quantitative", "scale": {"domain": [1254.74, 1316.44], "nice": false, "zero": false, "padding": 0}},
"text": {"field": "t"}
}
},
{
"data": {"name": "labels"},
"transform": [{"filter": "datum.kind == 'minor'"}],
"mark": {"type": "text", "font": "Liberation Sans", "fontSize": 14, "fontWeight": "bold", "align": "center", "baseline": "middle", "color": "#2222aa"},
"encoding": {
"x": {"field": "i", "type": "quantitative", "scale": {"domain": [-0.73, 522.45], "nice": false, "zero": false, "padding": 0}},
"y": {"field": "p", "type": "quantitative", "scale": {"domain": [1254.74, 1316.44], "nice": false, "zero": false, "padding": 0}},
"text": {"field": "t"}
}
},
{
"data": {"name": "labels"},
"transform": [{"filter": "datum.kind == 'circle'"}],
"mark": {"type": "point", "shape": "circle", "filled": false, "size": 270, "strokeWidth": 1, "color": "#d4871f", "opacity": 1},
"encoding": {
"x": {"field": "i", "type": "quantitative", "scale": {"domain": [-0.73, 522.45], "nice": false, "zero": false, "padding": 0}},
"y": {"field": "p", "type": "quantitative", "scale": {"domain": [1254.74, 1316.44], "nice": false, "zero": false, "padding": 0}}
}
},
{
"data": {"name": "labels"},
"transform": [{"filter": "datum.kind == 'circle'"}],
"mark": {"type": "text", "font": "Liberation Sans", "fontSize": 12, "align": "center", "baseline": "middle", "color": "#c97c14", "dy": 0.5},
"encoding": {
"x": {"field": "i", "type": "quantitative", "scale": {"domain": [-0.73, 522.45], "nice": false, "zero": false, "padding": 0}},
"y": {"field": "p", "type": "quantitative", "scale": {"domain": [1254.74, 1316.44], "nice": false, "zero": false, "padding": 0}},
"text": {"field": "t"}
}
},
{
"data": {"name": "last"},
"mark": {"type": "bar", "orient": "horizontal", "size": 16, "color": "#1f1650"},
"encoding": {
"x": {"datum": 502.0, "type": "quantitative", "scale": {"domain": [-0.73, 522.45], "nice": false, "zero": false, "padding": 0}},
"x2": {"datum": 522.45},
"y": {"field": "price", "type": "quantitative", "scale": {"domain": [1254.74, 1316.44], "nice": false, "zero": false, "padding": 0}}
}
},
{
"data": {"name": "last"},
"mark": {"type": "text", "font": "Liberation Sans", "fontSize": 11, "fontWeight": "bold", "align": "left", "baseline": "middle", "color": "#ffffff"},
"encoding": {
"x": {"datum": 505.3, "type": "quantitative", "scale": {"domain": [-0.73, 522.45], "nice": false, "zero": false, "padding": 0}},
"y": {"field": "price", "type": "quantitative", "scale": {"domain": [1254.74, 1316.44], "nice": false, "zero": false, "padding": 0}},
"text": {"field": "label"}
}
}
],
"config": {
"view": {"stroke": "#555555", "strokeWidth": 1},
"axis": {"grid": false},
"font": "Liberation Sans"
}
}
